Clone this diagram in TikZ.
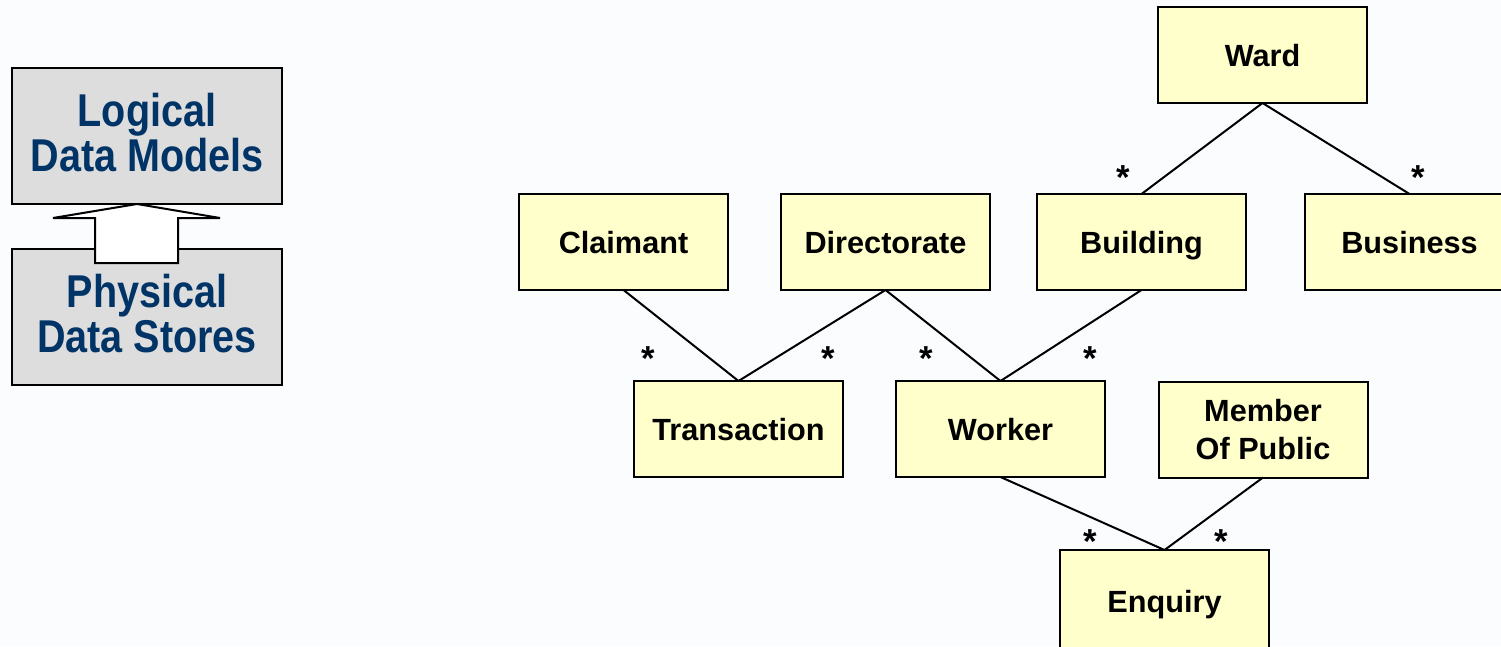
\documentclass[tikz,border=0pt]{standalone}
\usepackage{fontspec}
\setmainfont{Liberation Sans}
\newfontfamily\narrowsans[FakeStretch=0.86]{Liberation Sans}
\definecolor{bgcol}{RGB}{251,252,254}
\definecolor{entfill}{RGB}{255,255,204}
\definecolor{layerfill}{RGB}{221,221,221}
\definecolor{layertext}{RGB}{0,51,102}
\tikzset{
  entity/.style={draw=black, line width=1.5pt, fill=entfill, minimum width=156.75pt,
    minimum height=72pt, inner sep=0pt, outer sep=0pt, align=center,
    font=\fontsize{23}{29}\selectfont\bfseries},
  oneline/.style={entity, text height=17.4pt, text depth=0pt},
  layer/.style={draw=black, line width=1.5pt, fill=layerfill, minimum width=202.5pt,
    minimum height=102pt, inner sep=0pt, outer sep=0pt, align=center,
    text=layertext, text depth=5.2pt,
    font=\narrowsans\fontsize{34.5}{33.8}\selectfont\bfseries},
  rel/.style={draw=black, line width=1.5pt},
  mult/.style={font=\fontsize{26}{26}\selectfont\bfseries, inner sep=0pt}
}
\begin{document}
\begin{tikzpicture}[x=0.75pt, y=-0.75pt]
  % canvas
  \fill[bgcol] (0,0) rectangle (1501,646);
  \useasboundingbox (0,0) rectangle (1501,646);
  \clip (0,0) rectangle (1501,646);

  % layer boxes with the block arrow between them
  \node[layer] (logical) at (147,136) {Logical\\Data Models};
  \node[layer] (physical) at (147,317) {Physical\\Data Stores};
  \draw[line width=1.5pt, fill=white, line join=miter]
    (95,263) -- (95,218) -- (53,218) -- (137,204) -- (220,218) -- (178,218) -- (178,263) -- cycle;

  % entities
  \node[oneline] (ward)        at (1262.5,55)   {Ward};
  \node[oneline] (claimant)    at (623.5,242)   {Claimant};
  \node[oneline] (directorate) at (885.5,242)   {Directorate};
  \node[oneline] (building)    at (1141.5,242)  {Building};
  \node[oneline] (business)    at (1409.5,242)  {Business};
  \node[oneline] (transaction) at (738.5,429)   {Transaction};
  \node[oneline] (worker)      at (1000.5,429)  {Worker};
  \node[entity]  (member)      at (1263,429.5)  {Member\\Of Public};
  \node[oneline, minimum height=76.5pt] (enquiry) at (1164.5,601) {Enquiry};

  % relationships
  \draw[rel] (ward.south) -- (building.north);
  \draw[rel] (ward.south) -- (business.north);
  \draw[rel] (claimant.south) -- (transaction.north);
  \draw[rel] (directorate.south) -- (transaction.north);
  \draw[rel] (directorate.south) -- (worker.north);
  \draw[rel] (building.south) -- (worker.north);
  \draw[rel] (worker.south) -- (enquiry.north);
  \draw[rel] (member.south) -- (enquiry.north);

  % multiplicities
  \node[mult] (m1) at (1123,178) {*};
  \node[mult] (m2) at (1418,178) {*};
  \node[mult] (m3) at (648,359)  {*};
  \node[mult] (m4) at (828,359)  {*};
  \node[mult] (m5) at (926,359)  {*};
  \node[mult] (m6) at (1090,359) {*};
  \node[mult] (m7) at (1090,542) {*};
  \node[mult] (m8) at (1221,542) {*};
\end{tikzpicture}
\end{document}
